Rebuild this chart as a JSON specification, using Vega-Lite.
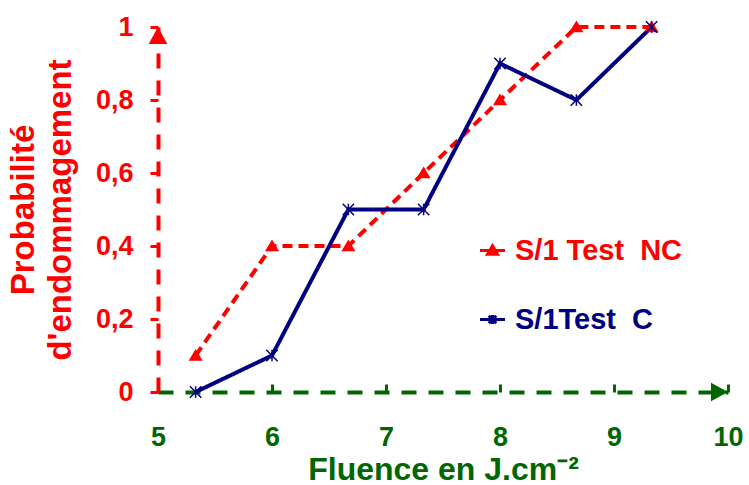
{
  "$schema": "https://vega.github.io/schema/vega-lite/v6.json",
  "width": 570,
  "height": 365,
  "autosize": "none",
  "padding": {"left": 158, "top": 27, "right": 21, "bottom": 93},
  "background": "white",
  "config": {
    "view": {"stroke": null},
    "font": "Liberation Sans"
  },
  "datasets": {
    "series": [
      {"fluence": 5.33, "prob": 0.1, "serie": "S/1 Test\u00a0 NC"},
      {"fluence": 6.0, "prob": 0.4, "serie": "S/1 Test\u00a0 NC"},
      {"fluence": 6.67, "prob": 0.4, "serie": "S/1 Test\u00a0 NC"},
      {"fluence": 7.33, "prob": 0.6, "serie": "S/1 Test\u00a0 NC"},
      {"fluence": 8.0, "prob": 0.8, "serie": "S/1 Test\u00a0 NC"},
      {"fluence": 8.67, "prob": 1.0, "serie": "S/1 Test\u00a0 NC"},
      {"fluence": 9.33, "prob": 1.0, "serie": "S/1 Test\u00a0 NC"},
      {"fluence": 5.33, "prob": 0.0, "serie": "S/1Test\u00a0 C"},
      {"fluence": 6.0, "prob": 0.1, "serie": "S/1Test\u00a0 C"},
      {"fluence": 6.67, "prob": 0.5, "serie": "S/1Test\u00a0 C"},
      {"fluence": 7.33, "prob": 0.5, "serie": "S/1Test\u00a0 C"},
      {"fluence": 8.0, "prob": 0.9, "serie": "S/1Test\u00a0 C"},
      {"fluence": 8.67, "prob": 0.8, "serie": "S/1Test\u00a0 C"},
      {"fluence": 9.33, "prob": 1.0, "serie": "S/1Test\u00a0 C"}
    ]
  },
  "resolve": {"scale": {"shape": "independent"}},
  "encoding": {
    "x": {
      "field": "fluence", "type": "quantitative",
      "scale": {"domain": [5, 10], "nice": false, "zero": false},
      "axis": {
        "title": "Fluence en J.cm⁻²",
        "values": [5, 6, 7, 8, 9, 10],
        "grid": false,
        "domainColor": "#006600", "domainWidth": 4, "domainDash": [15, 12],
        "tickColor": "#006600", "tickWidth": 3, "tickSize": -8,
        "labelColor": "#006600", "labelFont": "Liberation Sans", "labelFontWeight": "bold", "labelFontSize": 27,
        "labelPadding": 40, "labelFlush": false,
        "titleColor": "#006600", "titleFont": "Liberation Sans", "titleFontWeight": "bold", "titleFontSize": 32,
        "titlePadding": 4
      }
    },
    "y": {
      "field": "prob", "type": "quantitative",
      "scale": {"domain": [0, 1], "nice": false},
      "axis": {
        "title": ["Probabilité", "d'endommagement"],
        "values": [0, 0.2, 0.4, 0.6, 0.8, 1],
        "labelExpr": "replace(toString(datum.value), '.', ',')",
        "grid": false,
        "domainColor": "#FF0000", "domainWidth": 4, "domainDash": [15, 12],
        "tickColor": "#FF0000", "tickWidth": 3, "tickSize": 8,
        "labelColor": "#FF0000", "labelFont": "Liberation Sans", "labelFontWeight": "bold", "labelFontSize": 27,
        "labelPadding": 17, "labelFlush": false,
        "titleColor": "#FF0000", "titleFont": "Liberation Sans", "titleFontWeight": "bold", "titleFontSize": 33,
        "titleLineHeight": 37, "titlePadding": 18
      }
    }
  },
  "layer": [
    {
      "data": {"name": "series"},
      "mark": {"type": "line", "strokeWidth": 4},
      "encoding": {
        "color": {
          "field": "serie", "type": "nominal",
          "scale": {"domain": ["S/1 Test\u00a0 NC", "S/1Test\u00a0 C"], "range": ["#FF0000", "#000080"]},
          "legend": null
        },
        "strokeDash": {
          "field": "serie", "type": "nominal",
          "scale": {"domain": ["S/1 Test\u00a0 NC", "S/1Test\u00a0 C"], "range": [[10, 6], [1, 0]]},
          "legend": null
        }
      }
    },
    {
      "data": {"name": "series"},
      "mark": {"type": "point", "filled": true, "strokeWidth": 1.5, "size": 130, "opacity": 1},
      "encoding": {
        "color": {
          "field": "serie", "type": "nominal",
          "scale": {"domain": ["S/1 Test\u00a0 NC", "S/1Test\u00a0 C"], "range": ["#FF0000", "#000080"]},
          "legend": null
        },
        "stroke": {
          "field": "serie", "type": "nominal",
          "scale": {"domain": ["S/1 Test\u00a0 NC", "S/1Test\u00a0 C"], "range": ["#FF0000", "#000080"]},
          "legend": null
        },
        "shape": {
          "field": "serie", "type": "nominal",
          "scale": {"domain": ["S/1 Test\u00a0 NC", "S/1Test\u00a0 C"], "range": ["M0,-0.9L1,0.8L-1,0.8Z", "M-1,-1L1,1M-1,1L1,-1M0,-1L0,1"]},
          "legend": null
        }
      }
    },
    {
      "data": {"name": "series"},
      "mark": {
        "type": "point", "filled": true, "strokeWidth": 3, "size": 625, "opacity": 0,
        "color": {"expr": "(datum.value ? indexof(datum.value, 'NC') : -1) >= 0 ? '#FF0000' : '#000080'"},
        "stroke": {"expr": "(datum.value ? indexof(datum.value, 'NC') : -1) >= 0 ? '#FF0000' : '#000080'"}
      },
      "encoding": {
        "shape": {
          "field": "serie", "type": "nominal",
          "scale": {"domain": ["S/1 Test\u00a0 NC", "S/1Test\u00a0 C"], "range": ["M-1,0H1M0,-0.38L0.4,0.3L-0.4,0.3Z", "M-1,0H1M-0.3,-0.3L0.3,0.3M-0.3,0.3L0.3,-0.3M0,-0.36L0,0.36"]},
          "legend": {
            "title": null,
            "orient": "none",
            "legendX": 320,
            "legendY": 209,
            "rowPadding": 39,
            "labelFont": "Liberation Sans",
            "labelFontWeight": "bold",
            "labelFontSize": 29,
            "labelOffset": 8,
            "labelLimit": 400,
            "labelColor": {"expr": "(datum.label ? indexof(datum.label, 'NC') : -1) >= 0 ? '#FF0000' : '#000080'"},
            "symbolSize": 625,
            "symbolStrokeWidth": 3,
            "symbolOpacity": 1
          }
        }
      }
    },
    {
      "data": {"values": [{"fluence": 5, "prob": 1}]},
      "mark": {"type": "point", "filled": true, "color": "#FF0000", "opacity": 1, "size": 289, "shape": "M0,0L1.1,2L-1.1,2Z"}
    },
    {
      "data": {"values": [{"fluence": 10, "prob": 0}]},
      "mark": {"type": "point", "filled": true, "color": "#006600", "opacity": 1, "size": 289, "shape": "M0,0L-2,-1.1L-2,1.1Z"}
    }
  ]
}
